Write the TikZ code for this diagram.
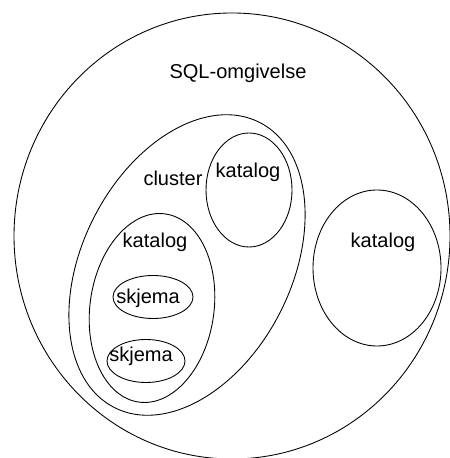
\documentclass[tikz,border=0pt]{standalone}
\usepackage{fontspec}
\setmainfont{Liberation Sans}
\usepackage{tikz}

\begin{document}
\begin{tikzpicture}[line width=0.5pt,
    lbl/.style={inner sep=0pt,font=\fontsize{11.4pt}{13pt}\selectfont}]
      \useasboundingbox (0,0) rectangle (8.98,9.16);
      \draw (4.64,4.44) ellipse [x radius=4.36, y radius=4.46];
      \draw[rotate around={63:(3.74,3.86)}] (3.74,3.86) ellipse [x radius=3.2, y radius=2.09];
      \draw (4.98,5.36) ellipse [x radius=0.86, y radius=1.14];
      \draw[rotate around={-8:(3.04,3.00)}] (3.04,3.00) ellipse [x radius=1.24, y radius=1.9];
      \draw (3.06,3.22) ellipse [x radius=0.80, y radius=0.43];
      \draw (2.92,1.94) ellipse [x radius=0.78, y radius=0.43];
      \draw (7.54,3.80) ellipse [x radius=1.28, y radius=1.56];
      \node[lbl] (env) at (4.76,7.70) {SQL-omgivelse};
      \node[lbl] (clu) at (3.46,5.60) {cluster};
      \node[lbl] (katA) at (4.96,5.72) {katalog};
      \node[lbl] (katB) at (3.10,4.32) {katalog};
      \node[lbl] (katC) at (7.66,4.32) {katalog};
      \node[lbl] (skjA) at (2.96,3.20) {skjema};
      \node[lbl] (skjB) at (2.82,2.04) {skjema};
    \end{tikzpicture}
\end{document}
